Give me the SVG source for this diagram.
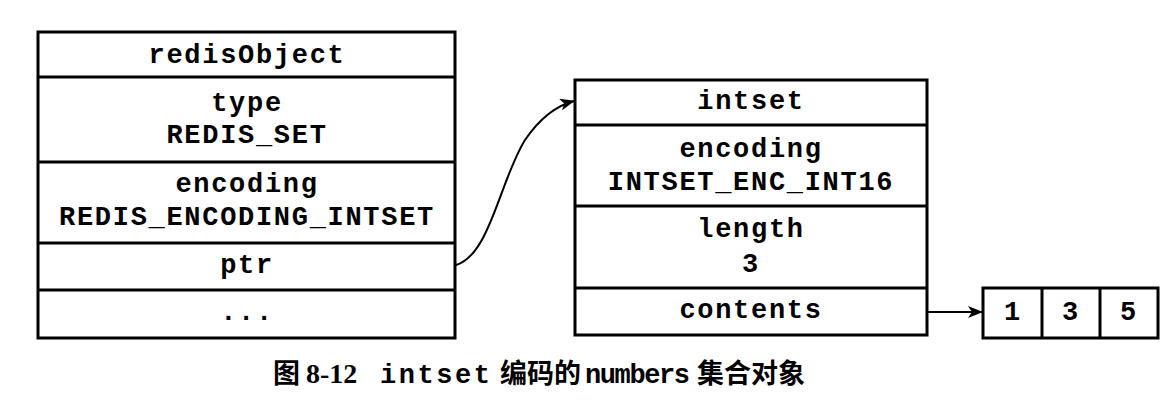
<svg xmlns="http://www.w3.org/2000/svg" width="1172" height="414" viewBox="0 0 1172 414">
<style>
.box{fill:#fff;stroke:#000;stroke-width:3}
.div{stroke:#000;stroke-width:3}
.t{font-family:"Liberation Mono","DejaVu Sans Mono",monospace;font-size:27px;letter-spacing:1.7px;text-anchor:middle;fill:#000;font-weight:bold}
.cap{font-family:"Noto Sans CJK SC","Noto Sans CJK JP",sans-serif;font-weight:bold;font-size:27px;fill:#000}
.capm{font-family:"Liberation Mono",monospace;font-size:27px;fill:#000;font-weight:bold}
.link{fill:none;stroke:#000;stroke-width:2}
</style>
<defs>
<marker id="ah" markerWidth="15" markerHeight="12" refX="14" refY="6" orient="auto" markerUnits="userSpaceOnUse">
<path d="M0,0 L15,6 L0,12 L4,6 Z" fill="#000"/>
</marker>
</defs>
<g id="redisObject">
<rect class="box" x="38" y="32" width="417" height="306"/>
<line class="div" x1="38" y1="77" x2="455" y2="77"/>
<line class="div" x1="38" y1="162" x2="455" y2="162"/>
<line class="div" x1="38" y1="243" x2="455" y2="243"/>
<line class="div" x1="38" y1="290" x2="455" y2="290"/>
<text class="t" x="247" y="63">redisObject</text>
<text class="t" x="247" y="111">type</text>
<text class="t" x="247" y="143">REDIS_SET</text>
<text class="t" x="247" y="192">encoding</text>
<text class="t" x="247" y="225">REDIS_ENCODING_INTSET</text>
<text class="t" x="247" y="273">ptr</text>
<text class="t" x="247" y="320">...</text>
</g>
<g id="intset">
<rect class="box" x="575" y="80" width="352" height="255"/>
<line class="div" x1="575" y1="125" x2="927" y2="125"/>
<line class="div" x1="575" y1="206" x2="927" y2="206"/>
<line class="div" x1="575" y1="288" x2="927" y2="288"/>
<text class="t" x="751" y="109">intset</text>
<text class="t" x="751" y="157">encoding</text>
<text class="t" x="751" y="190">INTSET_ENC_INT16</text>
<text class="t" x="751" y="237">length</text>
<text class="t" x="751" y="272">3</text>
<text class="t" x="751" y="318">contents</text>
</g>
<g id="contents">
<rect class="box" x="983" y="288" width="175" height="50"/>
<line class="div" x1="1042" y1="288" x2="1042" y2="338"/>
<line class="div" x1="1100" y1="288" x2="1100" y2="338"/>
<text class="t" x="1013" y="320">1</text>
<text class="t" x="1071" y="320">3</text>
<text class="t" x="1129" y="320">5</text>
</g>
<g id="connectors">
<path class="link" d="M456,265 C490,255 500,180 525,140 C540,118 555,106 574,101" marker-end="url(#ah)"/>
<line class="link" x1="928" y1="312" x2="982" y2="312" marker-end="url(#ah)"/>
</g>
<g id="caption">
<text class="cap" x="273" y="383">图</text>
<text x="306" y="383" font-family="Liberation Serif,serif" font-weight="bold" font-size="28px">8-12</text>
<text class="capm" x="380" y="383" textLength="110">intset</text>
<text class="cap" x="500" y="383">编码的</text>
<text class="capm" x="585" y="383" font-size="24px" textLength="105">numbers</text>
<text class="cap" x="697" y="383">集合对象</text>
</g>
</svg>
